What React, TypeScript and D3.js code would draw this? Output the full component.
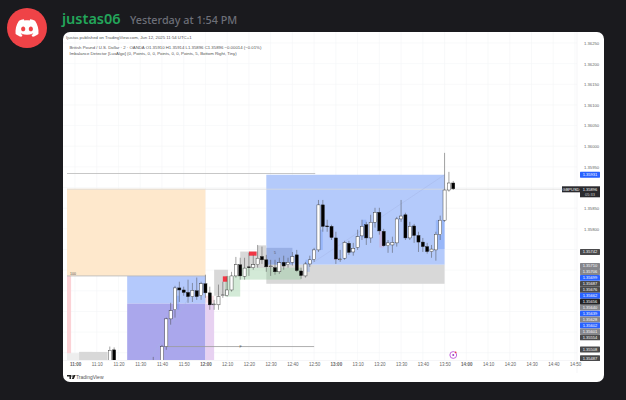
import { useEffect, useRef } from "react";
import * as d3 from "d3";

// minutes after 11:00
const timeTicks = d3.range(0, 240, 10);
const timeLabels = [
  "11:00", "11:10", "11:20", "11:30", "11:40", "11:50", "12:00", "12:10", "12:20", "12:30", "12:40", "12:50",
  "13:00", "13:10", "13:20", "13:30", "13:40", "13:50", "14:00", "14:10", "14:20", "14:30", "14:40", "14:50",
];
const boldTimes = ["11:00", "12:00", "13:00", "14:00"];
const priceTicks = [
  1.3625, 1.362, 1.3615, 1.361, 1.3605, 1.36, 1.3595, 1.359, 1.3585, 1.358, 1.3575, 1.357, 1.3565, 1.356, 1.3555, 1.355,
];
// the rest of the tick labels sit behind the price tags
const priceLabels = [1.3625, 1.362, 1.3615, 1.361, 1.3605, 1.36, 1.3595, 1.3585, 1.358];

const candleTimes = [
  16, 18, 36, 40, 42, 44, 46, 48, 50, 52, 54, 56, 58, 60, 62, 64, 66, 68, 70, 72, 74, 76, 78, 80, 82, 84, 86, 88, 90, 92,
  94, 96, 98, 100, 102, 104, 106, 108, 110, 112, 114, 116, 118, 120, 122, 124, 126, 128, 130, 132, 134, 136, 138, 140,
  142, 144, 146, 148, 150, 152, 154, 156, 158, 160, 162, 164, 166, 168, 170, 172, 174,
];
const opens = [
  1.35471, 1.35507, 1.3542, 1.35466, 1.35515, 1.35582, 1.35604, 1.35657, 1.35652, 1.35646, 1.35636, 1.3565, 1.35638,
  1.35667, 1.35645, 1.35616, 1.35616, 1.35638, 1.35638, 1.35652, 1.35686, 1.35713, 1.35685, 1.35708, 1.35706, 1.35713,
  1.35733, 1.35725, 1.35708, 1.35706, 1.35696, 1.35719, 1.35713, 1.35719, 1.35737, 1.35698, 1.35686, 1.35715, 1.35726,
  1.35749, 1.35858, 1.35807, 1.35806, 1.35778, 1.35725, 1.35729, 1.35765, 1.35744, 1.35755, 1.35783, 1.3581, 1.35778,
  1.35816, 1.3584, 1.35794, 1.35759, 1.35761, 1.35766, 1.35824, 1.35834, 1.35778, 1.35807, 1.35784, 1.35768, 1.35757,
  1.35745, 1.35749, 1.35786, 1.35821, 1.35894, 1.35911,
];
const highs = [
  1.35515, 1.35513, 1.3549, 1.35519, 1.35585, 1.35621, 1.35662, 1.35672, 1.3566, 1.35677, 1.35669, 1.35682, 1.35672,
  1.35689, 1.3566, 1.35628, 1.35665, 1.35672, 1.35686, 1.35696, 1.35732, 1.3573, 1.3573, 1.35742, 1.35737, 1.35761,
  1.35757, 1.35737, 1.35725, 1.35725, 1.3573, 1.35735, 1.3573, 1.35744, 1.35749, 1.35706, 1.3572, 1.35735, 1.35754,
  1.3587, 1.3587, 1.35822, 1.3581, 1.35793, 1.35749, 1.35771, 1.35771, 1.35766, 1.35798, 1.35822, 1.35817, 1.35834,
  1.35851, 1.35851, 1.358, 1.35773, 1.35781, 1.35829, 1.3587, 1.35839, 1.35817, 1.35812, 1.35793, 1.35778, 1.35766,
  1.35761, 1.35793, 1.35832, 1.35984, 1.35938, 1.35916,
];
const lows = [
  1.35464, 1.3546, 1.354, 1.3545, 1.35507, 1.35568, 1.35585, 1.35623, 1.35638, 1.35621, 1.35623, 1.35628, 1.35628,
  1.35633, 1.35604, 1.35604, 1.35604, 1.35633, 1.35636, 1.35648, 1.35682, 1.35677, 1.35677, 1.35686, 1.35701, 1.35706,
  1.35715, 1.35696, 1.35686, 1.35689, 1.35691, 1.35701, 1.35706, 1.35711, 1.35696, 1.35679, 1.35682, 1.35708, 1.3572,
  1.35744, 1.35793, 1.35793, 1.35773, 1.35715, 1.3572, 1.35725, 1.35737, 1.35735, 1.35749, 1.35773, 1.35761, 1.35766,
  1.35803, 1.35786, 1.35757, 1.35742, 1.35742, 1.35757, 1.35817, 1.35773, 1.35773, 1.35766, 1.35744, 1.35744, 1.3574,
  1.3573, 1.35723, 1.35773, 1.35817, 1.3589, 1.35894,
];
const closes = [
  1.35506, 1.35471, 1.3547, 1.35515, 1.35582, 1.35602, 1.35657, 1.35652, 1.35646, 1.35636, 1.35651, 1.35636, 1.35667,
  1.35645, 1.35616, 1.35618, 1.35636, 1.3564, 1.35652, 1.35686, 1.35713, 1.35686, 1.35705, 1.35706, 1.35713, 1.35729,
  1.35725, 1.35708, 1.3571, 1.35696, 1.35718, 1.3571, 1.35719, 1.35733, 1.35699, 1.35687, 1.35715, 1.35725, 1.35749,
  1.35858, 1.35806, 1.35805, 1.35779, 1.35727, 1.35727, 1.35767, 1.35743, 1.35753, 1.35781, 1.35806, 1.35778, 1.35816,
  1.3584, 1.35795, 1.35759, 1.35766, 1.35767, 1.35824, 1.35831, 1.35778, 1.35806, 1.35784, 1.35768, 1.35757, 1.35745,
  1.35751, 1.35787, 1.35821, 1.35894, 1.35911, 1.35897,
];

// kind, start, end, top price, bottom price
const zones: [string, number, number, number, number][] = [
  ["orange", -3.7, 60, 1.35897, 1.35686],
  ["paleBlue", 24, 60, 1.35686, 1.35619],
  ["purple", 24, 60, 1.35619, 1.3547],
  ["palePurple", 60, 64, 1.35619, 1.3547],
  ["pink", -3.7, -1.8, 1.35686, 1.3547],
  ["paleGrey", -3.7, 2, 1.35499, 1.3547],
  ["grey", 2, 15, 1.35502, 1.3547],
  ["grey", 2, 8, 1.35502, 1.3547],
  ["blue", 88, 170, 1.35931, 1.35713],
  ["grey", 88, 170, 1.35713, 1.35667],
  ["grey", 64, 70.4, 1.35701, 1.35638],
  ["green", 69, 76, 1.35686, 1.35636],
  ["grey", 76, 88, 1.35745, 1.35706],
  ["grey", 84, 88, 1.3576, 1.35706],
  ["green", 76, 104, 1.35706, 1.35677],
  ["overlay", 88, 100, 1.35754, 1.35713],
  ["bull", 46, 48, 1.35638, 1.35604],
  ["bull", 112, 114, 1.35798, 1.35749],
  ["bull", 106, 108, 1.35725, 1.35696],
  ["bull", 166, 170, 1.35821, 1.35751],
  ["bull", 132, 134, 1.35822, 1.3578],
  ["bear", 60, 64, 1.35638, 1.35621],
  ["bear", 117, 119, 1.35797, 1.3578],
  ["bear", 119, 121, 1.35773, 1.35725],
  ["bear", 140, 142, 1.35794, 1.35755],
  ["red", 11, 13, 1.3548, 1.35474],
  ["red", 68, 70, 1.35685, 1.35672],
  ["red", 80, 83.5, 1.35745, 1.35735],
];
const zoneColors: Record<string, string> = {
  orange: "#fee8cc",
  paleBlue: "#b4c9fc",
  purple: "#aaa7ec",
  palePurple: "#e7d1f1",
  pink: "#fbd2d6",
  paleGrey: "#eeeeee",
  grey: "#d8d8d8",
  blue: "#b4cafb",
  green: "rgba(150,205,160,0.42)",
  overlay: "rgba(100,125,190,0.35)",
  bull: "rgba(90,140,245,0.3)",
  bear: "rgba(240,130,150,0.25)",
  red: "#f23645",
};

// start, end, price, colour
const levels: [number, number, number, string][] = [
  [-3.7, 110.5, 1.35934, "#b9b9b9"],
  [-3.7, 230, 1.35896, "#dcdcdc"],
  [-3.7, 60, 1.35686, "#b5b5b5"],
  [42, 110, 1.35515, "#9a9a9a"],
];
const trendLines: [number, number, number, number][] = [
  [108, 1.35713, 170, 1.35931],
  [34, 1.3548, 52, 1.3563],
];

const tagPrices = [
  1.3571, 1.35706, 1.35699, 1.35687, 1.35676, 1.35662, 1.35656, 1.3564, 1.35639, 1.35628, 1.35602, 1.35601, 1.35554,
  1.35508, 1.35487,
];
const tagKinds = ["g", "g", "b", "d", "d", "b", "k", "g", "b", "g", "b", "g", "d", "d", "d"];
const tagColors: Record<string, string> = { g: "#85868c", b: "#2962ff", d: "#4a4a4c", k: "#222225" };

const discordLogo =
  "M20.317 4.3698a19.7913 19.7913 0 00-4.8851-1.5152.0741.0741 0 00-.0785.0371c-.211.3753-.4447.8648-.6083 1.2495-1.8447-.2762-3.68-.2762-5.4868 0-.1636-.3933-.4058-.8742-.6177-1.2495a.077.077 0 00-.0785-.037 19.7363 19.7363 0 00-4.8852 1.515.0699.0699 0 00-.0321.0277C.5334 9.0458-.319 13.5799.0992 18.0578a.0824.0824 0 00.0312.0561c2.0528 1.5076 4.0413 2.4228 5.9929 3.0294a.0777.0777 0 00.0842-.0276c.4616-.6304.8731-1.2952 1.226-1.9942a.076.076 0 00-.0416-.1057c-.6528-.2476-1.2743-.5495-1.8722-.8923a.077.077 0 01-.0076-.1277c.1258-.0943.2517-.1923.3718-.2914a.0743.0743 0 01.0776-.0105c3.9278 1.7933 8.18 1.7933 12.0614 0a.0739.0739 0 01.0785.0095c.1202.099.246.1981.3728.2924a.077.077 0 01-.0066.1276 12.2986 12.2986 0 01-1.873.8914.0766.0766 0 00-.0407.1067c.3604.698.7719 1.3628 1.225 1.9932a.076.076 0 00.0842.0286c1.961-.6067 3.9495-1.5219 6.0023-3.0294a.077.077 0 00.0313-.0552c.5004-5.177-.8382-9.6739-3.5485-13.6604a.061.061 0 00-.0312-.0286zM8.02 15.3312c-1.1825 0-2.1569-1.0857-2.1569-2.419 0-1.3332.9555-2.4189 2.157-2.4189 1.2108 0 2.1757 1.0952 2.1568 2.419 0 1.3332-.9555 2.4189-2.1569 2.4189zm7.9748 0c-1.1825 0-2.1569-1.0857-2.1569-2.419 0-1.3332.9554-2.4189 2.1569-2.4189 1.2108 0 2.1757 1.0952 2.1568 2.419 0 1.3332-.946 2.4189-2.1568 2.4189Z";

const uiFont = "'Noto Sans', sans-serif";
const chartFont = "'Liberation Sans', Arial, sans-serif";

export default function App() {
  const svgRef = useRef<SVGSVGElement | null>(null);

  useEffect(() => {
    const svg = d3.select(svgRef.current);
    svg.selectAll("*").remove();

    const x = d3.scaleLinear().domain([0, 230]).range([75, 575]);
    const y = d3.scaleLinear().domain([1.355, 1.3625]).range([352.75, 43]);

    svg.append("rect").attr("width", 626).attr("height", 400).attr("fill", "#1a1a1e");

    // discord header
    svg.append("circle").attr("cx", 27).attr("cy", 28).attr("r", 20).attr("fill", "#ef4347");
    svg.append("path").attr("d", discordLogo).attr("fill", "#fff").attr("transform", "translate(15.5,16.5) scale(0.96)");
    svg.append("text").attr("x", 62).attr("y", 24).attr("fill", "#23a55a")
      .style("font", `600 14.5px ${uiFont}`).text("justas06");
    svg.append("text").attr("x", 130).attr("y", 24).attr("fill", "#6d6f78")
      .style("font", `500 10.8px ${uiFont}`).text("Yesterday at 1:54 PM");

    svg.append("rect").attr("x", 63).attr("y", 32).attr("width", 541).attr("height", 350).attr("rx", 7).attr("fill", "#fff");

    const clipId = "plot-clip";
    svg.append("clipPath").attr("id", clipId).append("rect").attr("x", 67).attr("y", 32).attr("width", 510).attr("height", 328);

    // grid
    const grid = svg.append("g").attr("stroke", "#f4f5f7").attr("stroke-width", 0.6);
    grid.selectAll("line.v").data(timeTicks).join("line").attr("class", "v")
      .attr("x1", d => x(d)).attr("x2", d => x(d)).attr("y1", 32).attr("y2", 360);
    grid.selectAll("line.h").data(priceTicks).join("line").attr("class", "h")
      .attr("x1", 63).attr("x2", 577).attr("y1", d => y(d)).attr("y2", d => y(d));
    grid.append("line").attr("x1", 577).attr("x2", 577).attr("y1", 32).attr("y2", 373).attr("stroke", "#eeeff2");
    grid.append("line").attr("x1", 63).attr("x2", 577).attr("y1", 360.5).attr("y2", 360.5).attr("stroke", "#eeeff2");

    const plot = svg.append("g").attr("clip-path", `url(#${clipId})`);

    plot.selectAll("rect.zone").data(zones).join("rect").attr("class", "zone")
      .attr("x", d => x(d[1])).attr("width", d => x(d[2]) - x(d[1]))
      .attr("y", d => y(d[3])).attr("height", d => y(d[4]) - y(d[3]))
      .attr("fill", d => zoneColors[d[0]]);

    plot.selectAll("line.level").data(levels).join("line").attr("class", "level")
      .attr("x1", d => x(d[0])).attr("x2", d => x(d[1]))
      .attr("y1", d => y(d[2])).attr("y2", d => y(d[2]))
      .attr("stroke", d => d[3]).attr("stroke-width", 0.8);

    plot.selectAll("line.trend").data(trendLines).join("line").attr("class", "trend")
      .attr("x1", d => x(d[0])).attr("y1", d => y(d[1]))
      .attr("x2", d => x(d[2])).attr("y2", d => y(d[3]))
      .attr("stroke", "#a3b4e4").attr("stroke-width", 0.4);

    const candles = candleTimes.map((t, i) => ({ t, o: opens[i], h: highs[i], l: lows[i], c: closes[i] }));
    const bodyWidth = 3.1;
    plot.selectAll("line.wick").data(candles).join("line").attr("class", "wick")
      .attr("x1", d => x(d.t)).attr("x2", d => x(d.t))
      .attr("y1", d => y(d.h)).attr("y2", d => y(d.l))
      .attr("stroke", "#4a4a4a").attr("stroke-width", 0.5);
    plot.selectAll("rect.body").data(candles).join("rect").attr("class", "body")
      .attr("x", d => x(d.t) - bodyWidth / 2).attr("width", bodyWidth)
      .attr("y", d => y(Math.max(d.o, d.c)))
      .attr("height", d => Math.max(0.8, Math.abs(y(d.o) - y(d.c))))
      .attr("fill", d => (d.c >= d.o ? "#fff" : "#000"))
      .attr("stroke", "#222").attr("stroke-width", 0.4);

    // small drawing labels
    const smallLabel = (px: number, py: number, s: string) =>
      svg.append("text").attr("x", px).attr("y", py).attr("fill", "#555").attr("text-anchor", "middle")
        .style("font", `3.5px ${chartFont}`).text(s);
    smallLabel(73, 275, "100");
    smallLabel(240.5, 348, "F");
    smallLabel(275, 254, "5");

    // axes
    const labelOf = (d: number) => timeLabels[timeTicks.indexOf(d)];
    const xAxis = svg.append("g").attr("transform", "translate(0,362)")
      .call(d3.axisBottom(x).tickValues(timeTicks).tickSize(0).tickPadding(0).tickFormat(d => labelOf(+d)));
    xAxis.select(".domain").remove();
    xAxis.selectAll("text").attr("fill", "#666").attr("dy", "0.9em")
      .style("font", `4.5px ${chartFont}`)
      .style("font-weight", d => (boldTimes.includes(labelOf(d as number)) ? "700" : "400"));

    const yAxis = svg.append("g").attr("transform", "translate(584,0)")
      .call(d3.axisRight(y).tickValues(priceLabels).tickSize(0).tickPadding(0).tickFormat(d3.format(".5f") as any));
    yAxis.select(".domain").remove();
    yAxis.selectAll("text").attr("fill", "#666").style("font", `4.2px ${chartFont}`);

    // price tags, pushed apart like the platform does
    const tag = (py: number, h: number, fill: string, lines: string[]) => {
      svg.append("rect").attr("x", 580).attr("y", py - h / 2).attr("width", 20).attr("height", h).attr("rx", 0.6).attr("fill", fill);
      lines.forEach((s, i) => {
        svg.append("text").attr("x", 590).attr("y", py - h / 2 + 4.4 + i * 5.2).attr("fill", "#fff")
          .attr("text-anchor", "middle").style("font", `4px ${chartFont}`).text(s);
      });
    };
    let last = -Infinity;
    tagPrices.forEach((p, i) => {
      const py = Math.max(y(p), last + 5.95);
      last = py;
      tag(py, 5.9, tagColors[tagKinds[i]], [d3.format(".5f")(p)]);
    });
    tag(252, 5.9, "#4a4a4c", ["1.35742"]);
    tag(y(1.35931), 5.9, "#2962ff", ["1.35931"]);
    svg.append("rect").attr("x", 562).attr("y", 186.3).attr("width", 18).attr("height", 6).attr("fill", "#2a2a2e");
    svg.append("text").attr("x", 571).attr("y", 190.7).attr("fill", "#fff").attr("text-anchor", "middle")
      .style("font", `4px ${chartFont}`).text("GBPUSD");
    svg.append("rect").attr("x", 580).attr("y", 186.3).attr("width", 20).attr("height", 11).attr("fill", "#2a2a2e");
    svg.append("text").attr("x", 590).attr("y", 190.7).attr("fill", "#fff").attr("text-anchor", "middle")
      .style("font", `4px ${chartFont}`).text("1.35896");
    svg.append("text").attr("x", 590).attr("y", 195.9).attr("fill", "#ccc").attr("text-anchor", "middle")
      .style("font", `4px ${chartFont}`).text("05:33");

    // title block
    const title = svg.append("g").attr("fill", "#555").style("font", `4.3px ${chartFont}`);
    title.append("text").attr("x", 66).attr("y", 38.5).text("Ijustas published on TradingView.com, Jun 12, 2025 11:54 UTC+1");
    title.append("text").attr("x", 69.5).attr("y", 48.5)
      .text("British Pound / U.S. Dollar · 2 · OANDA  O1.35910  H1.35914  L1.35896  C1.35896  −0.00014 (−0.01%)");
    title.append("text").attr("x", 69.5).attr("y", 54.5)
      .text("Imbalance Detector [LuxAlgo] (0, Points, 0, 0, Points, 0, 0, Points, 5, Bottom Right, Tiny)");

    // event marker
    svg.append("circle").attr("cx", x(174)).attr("cy", 355).attr("r", 3.4)
      .attr("fill", "#fff").attr("stroke", "#c265dd").attr("stroke-width", 1);
    svg.append("circle").attr("cx", x(174)).attr("cy", 355).attr("r", 1).attr("fill", "#9c3fc0");
    svg.append("circle").attr("cx", x(174) + 2.4).attr("cy", 352.4).attr("r", 0.8).attr("fill", "#f23645");

    // tradingview mark
    const tv = svg.append("g").attr("fill", "#222");
    tv.append("path").attr("d", d3.line()([[67, 375], [71, 375], [71, 379], [69.5, 379], [69.5, 376.5], [67, 376.5]]) + "Z");
    tv.append("circle").attr("cx", 72.1).attr("cy", 376).attr("r", 0.8);
    tv.append("path").attr("d", d3.line()([[73.5, 375], [75.6, 375], [73.8, 379], [71.8, 379]]) + "Z");
    svg.append("text").attr("x", 76).attr("y", 378.8).attr("fill", "#555")
      .style("font", `500 5px ${chartFont}`).text("TradingView");
  }, []);

  return <svg ref={svgRef} width={626} height={400} style={{ position: "absolute", left: 0, top: 0 }} />;
}
